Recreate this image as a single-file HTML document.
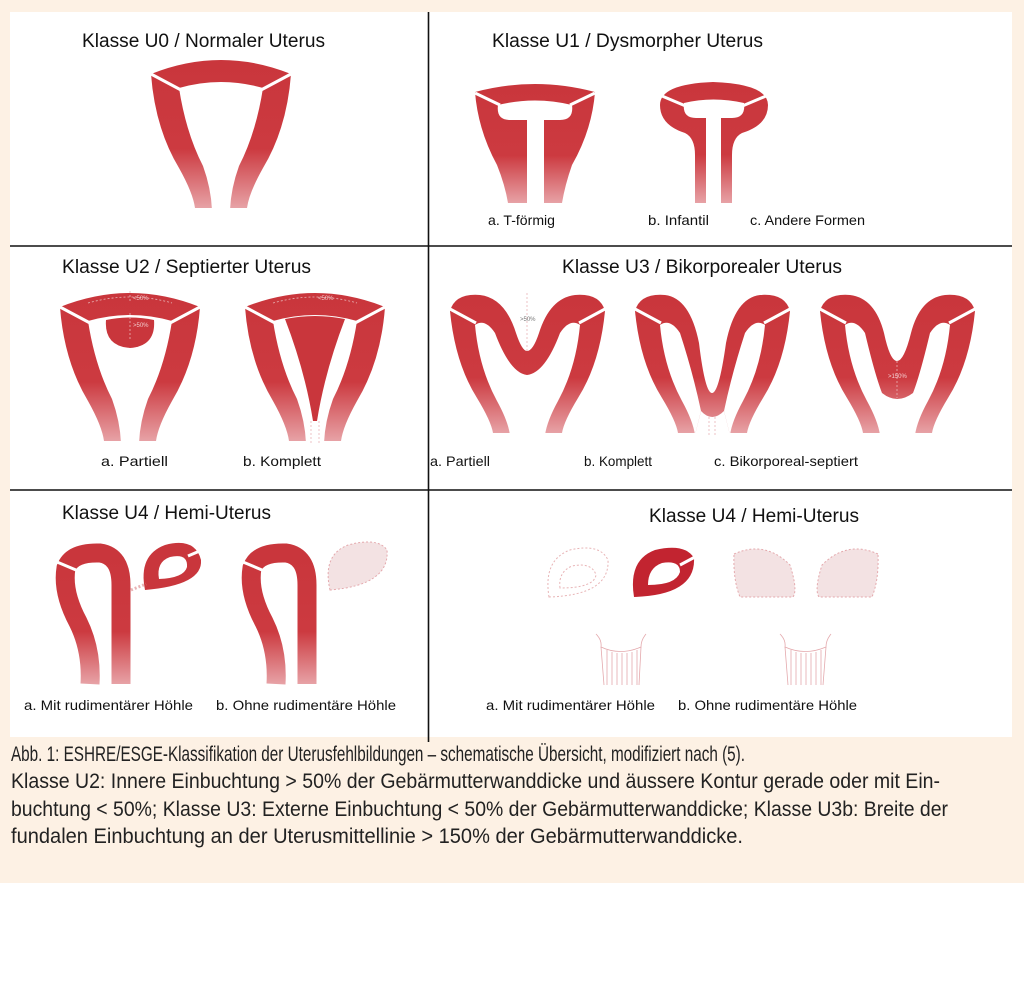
<!DOCTYPE html>
<html><head><meta charset="utf-8"><style>html,body{margin:0;padding:0;background:#fff}svg{display:block}</style></head><body>
<svg width="1024" height="991" viewBox="0 0 1024 991" xmlns="http://www.w3.org/2000/svg" font-family="Liberation Sans, sans-serif">
<defs>
<linearGradient id="g" x1="0" y1="0" x2="0" y2="1">
<stop offset="0" stop-color="#c9363c"/><stop offset="0.6" stop-color="#cc3a40"/><stop offset="1" stop-color="#e7a2a6"/></linearGradient>
<g id="u0">
<path d="M0,16 Q70,-12 140,16 Q136,70 112,110 Q98,135 96,150 L44,150 Q42,135 28,110 Q4,70 0,16Z" fill="url(#g)"/>
<path d="M28,30 Q70,18 112,30 Q105,75 88,108 Q80,130 79,152 L61,152 Q60,130 52,108 Q35,75 28,30Z" fill="#fff"/>
<path d="M0,16 L30,32 M140,16 L110,32" stroke="#fff" stroke-width="3"/>
</g>
</defs>
<rect width="1024" height="883" fill="#fdf1e4"/>
<rect x="10" y="12" width="1002" height="725" fill="#fff"/>
<path d="M10,246 H1012 M10,490 H1012 M428.5,12 V742" stroke="#111" stroke-width="1.6"/>

<g font-size="19" fill="#111" lengthAdjust="spacingAndGlyphs">
<text x="82" y="47" textLength="243" lengthAdjust="spacingAndGlyphs">Klasse U0 / Normaler Uterus</text>
<text x="492" y="47" textLength="271" lengthAdjust="spacingAndGlyphs">Klasse U1 / Dysmorpher Uterus</text>
<text x="62" y="273" textLength="249" lengthAdjust="spacingAndGlyphs">Klasse U2 / Septierter Uterus</text>
<text x="562" y="273" textLength="280" lengthAdjust="spacingAndGlyphs">Klasse U3 / Bikorporealer Uterus</text>
<text x="62" y="519" textLength="209" lengthAdjust="spacingAndGlyphs">Klasse U4 / Hemi-Uterus</text>
<text x="649" y="522" textLength="210" lengthAdjust="spacingAndGlyphs">Klasse U4 / Hemi-Uterus</text>
</g>
<g font-size="14" fill="#111">
<text x="488" y="225" textLength="67" lengthAdjust="spacingAndGlyphs">a. T-förmig</text>
<text x="648" y="225" textLength="61" lengthAdjust="spacingAndGlyphs">b. Infantil</text>
<text x="750" y="225" textLength="115" lengthAdjust="spacingAndGlyphs">c. Andere Formen</text>
<text x="101" y="466" textLength="67" lengthAdjust="spacingAndGlyphs">a. Partiell</text>
<text x="243" y="466" textLength="78" lengthAdjust="spacingAndGlyphs">b. Komplett</text>
<text x="430" y="466" textLength="60" lengthAdjust="spacingAndGlyphs">a. Partiell</text>
<text x="584" y="466" textLength="68" lengthAdjust="spacingAndGlyphs">b. Komplett</text>
<text x="714" y="466" textLength="144" lengthAdjust="spacingAndGlyphs">c. Bikorporeal-septiert</text>
<text x="24" y="710" textLength="169" lengthAdjust="spacingAndGlyphs">a. Mit rudimentärer Höhle</text>
<text x="216" y="710" textLength="180" lengthAdjust="spacingAndGlyphs">b. Ohne rudimentäre Höhle</text>
<text x="486" y="710" textLength="169" lengthAdjust="spacingAndGlyphs">a. Mit rudimentärer Höhle</text>
<text x="678" y="710" textLength="179" lengthAdjust="spacingAndGlyphs">b. Ohne rudimentäre Höhle</text>
</g>

<use href="#u0" transform="translate(151,58)"/>

<path d="M475,92 Q535,76 595,92 Q592,130 572,165 Q565,185 562,203 L508,203 Q505,185 497,165 Q478,130 475,92Z" fill="url(#g)"/>
<path d="M498,105 Q535,96 572,105 Q574,120 560,120 L544,120 L544,204 L527,204 L527,120 L510,120 Q496,120 498,105Z" fill="#fff"/>
<path d="M475,93 L500,105 M595,93 L570,105" stroke="#fff" stroke-width="3"/>
<path d="M660,105 Q660,84 713,82 Q768,84 768,105 Q768,125 742,133 Q732,138 732,155 L732,203 L695,203 L695,155 Q695,138 685,133 Q660,125 660,105Z" fill="url(#g)"/>
<path d="M684,103 Q713,96 744,103 Q746,118 732,118 L721,118 L721,204 L706,204 L706,118 L696,118 Q682,118 684,103Z" fill="#fff"/>
<path d="M662,96 L688,107 M766,96 L740,107" stroke="#fff" stroke-width="3"/>

<g transform="translate(60,291)"><use href="#u0"/>
<path d="M46,29 Q70,24 94,29 Q96,55 70,57 Q44,55 46,29Z" fill="#c9363c"/>
<g stroke="#e8b4b6" stroke-width="0.8" fill="none" stroke-dasharray="2 2"><path d="M28,12 Q70,0 112,12"/><path d="M70,0 V12 M70,22 V48"/></g>
<text x="73" y="9" font-size="6" fill="#f1c9cb">&lt;50%</text><text x="73" y="36" font-size="6" fill="#f1c9cb">&gt;50%</text></g>
<g transform="translate(245,291)"><use href="#u0"/>
<path d="M40,28 Q70,22 100,28 Q80,80 72,130 L68,130 Q60,80 40,28Z" fill="#c9363c"/>
<path d="M66,130 V152 M74,130 V152" stroke="#e8b4b6" stroke-width="0.8" stroke-dasharray="2 2"/>
<g stroke="#e8b4b6" stroke-width="0.8" fill="none" stroke-dasharray="2 2"><path d="M28,12 Q70,0 112,12"/></g>
<text x="73" y="9" font-size="6" fill="#f1c9cb">&lt;50%</text></g>

<g transform="translate(450,293)">
<path d="M0,18 Q5,0 30,2 Q55,5 66,40 Q72,58 77,58 Q83,58 89,40 Q100,5 125,2 Q150,0 155,18 Q150,70 128,105 Q114,128 112,140 L43,140 Q41,128 27,105 Q5,70 0,18Z" fill="url(#g)"/>
<path d="M25,32 Q35,25 45,40 Q60,80 77,82 Q95,80 110,40 Q120,25 130,32 Q126,75 108,108 Q97,128 95,142 L60,142 Q58,128 47,108 Q29,75 25,32Z" fill="#fff"/>
<path d="M0,16 L26,30 M155,16 L129,30" stroke="#fff" stroke-width="3"/>
<path d="M77,0 V58" stroke="#e8b4b6" stroke-width="0.8" stroke-dasharray="2 2"/><text x="70" y="28" font-size="6" fill="#777">&gt;50%</text></g>
<g transform="translate(635,293)">
<path d="M0,18 Q5,0 30,2 Q55,5 64,50 Q70,100 77,100 Q84,100 91,50 Q100,5 125,2 Q150,0 155,18 Q150,70 128,105 Q114,128 112,140 L43,140 Q41,128 27,105 Q5,70 0,18Z" fill="url(#g)"/>
<path d="M25,32 Q35,25 45,40 Q58,80 66,118 L60,142 Q58,128 47,108 Q29,75 25,32Z" fill="#fff"/>
<path d="M130,32 Q120,25 110,40 Q97,80 89,118 L95,142 Q97,128 108,108 Q126,75 130,32Z" fill="#fff"/>
<path d="M66,118 Q77,130 89,118 L95,142 L60,142Z" fill="#fff"/>
<path d="M0,16 L26,30 M155,16 L129,30" stroke="#fff" stroke-width="3"/>
<path d="M74,124 V142 M80,124 V142" stroke="#e8b4b6" stroke-width="0.8" stroke-dasharray="2 2"/></g>
<g transform="translate(820,293)">
<path d="M0,18 Q5,0 30,2 Q55,5 64,40 Q70,68 77,68 Q84,68 91,40 Q100,5 125,2 Q150,0 155,18 Q150,70 128,105 Q114,128 112,140 L43,140 Q41,128 27,105 Q5,70 0,18Z" fill="url(#g)"/>
<path d="M25,32 Q35,25 45,40 Q55,82 62,100 Q77,112 93,100 Q100,82 110,40 Q120,25 130,32 Q126,75 108,108 Q97,128 95,142 L60,142 Q58,128 47,108 Q29,75 25,32Z" fill="#fff"/>
<path d="M0,16 L26,30 M155,16 L129,30" stroke="#fff" stroke-width="3"/>
<path d="M77,68 V105" stroke="#e8b4b6" stroke-width="0.8" stroke-dasharray="2 2"/><text x="68" y="85" font-size="6" fill="#f4d0d2">&gt;150%</text></g>

<g id="hemi">
<path d="M90,684 Q92,650 78,622 Q62,592 66,568 Q72,552 100,553 Q121,556 121,585 L121,684" fill="none" stroke="url(#g)" stroke-width="19"/>
<path d="M57,562 L76,570" stroke="#fff" stroke-width="3"/>
</g>
<path d="M145,590 Q138,555 165,545 Q195,537 201,560 Q203,585 145,590Z" fill="#c9363c"/>
<path d="M159,579 Q156,562 170,557 Q188,553 187,567 Q184,578 159,579Z" fill="#fff"/>
<path d="M188,556 L202,550" stroke="#fff" stroke-width="3"/>
<path d="M131,590 L146,584" stroke="#e8b4b6" stroke-width="3" stroke-dasharray="2 2"/>
<use href="#hemi" transform="translate(186,0)"/>
<path d="M330,590 Q322,555 348,545 Q378,537 387,550 Q390,585 330,590Z" fill="#f3e2e3" stroke="#e4a9ad" stroke-width="1" stroke-dasharray="2 2"/>

<path d="M549,597 Q543,560 570,550 Q600,543 608,560 Q610,595 549,597Z" fill="none" stroke="#e8b4b6" stroke-width="1" stroke-dasharray="2 2"/>
<path d="M560,588 Q558,572 572,566 Q592,562 596,575 Q594,588 560,588Z" fill="none" stroke="#e8b4b6" stroke-width="1" stroke-dasharray="2 2"/>
<path d="M634,597 Q628,560 655,550 Q685,543 694,558 Q696,595 634,597Z" fill="#c22430"/>
<path d="M648,585 Q648,568 662,563 Q680,560 680,572 Q676,585 648,585Z" fill="#fff"/>
<path d="M680,565 L695,557" stroke="#fff" stroke-width="3"/>
<path d="M734,554 Q765,540 790,565 Q798,590 793,597 L740,597 Q733,580 734,554Z" fill="#f3e2e3" stroke="#e4a9ad" stroke-width="1" stroke-dasharray="2 2"/>
<path d="M878,554 Q847,540 822,565 Q814,590 819,597 L872,597 Q879,580 878,554Z" fill="#f3e2e3" stroke="#e4a9ad" stroke-width="1" stroke-dasharray="2 2"/>
<g stroke="#e4a9ad" stroke-width="0.8" fill="none">
<path d="M596,634 Q602,640 601,647 Q620,656 641,647 Q641,640 646,634"/>
<path d="M601,647 L604,685 M607,650 V685 M612,652 V685 M617,653 V685 M622,653 V685 M627,653 V685 M632,652 V685 M637,650 V685 M641,647 L639,685"/>
<path d="M780,634 Q786,640 785,647 Q805,656 826,647 Q826,640 831,634"/>
<path d="M785,647 L788,685 M791,650 V685 M796,652 V685 M801,653 V685 M806,653 V685 M811,653 V685 M816,652 V685 M821,650 V685 M826,647 L823,685"/>
</g>

<g font-size="21" fill="#222">
<text x="11" y="761" textLength="734" lengthAdjust="spacingAndGlyphs">Abb. 1: ESHRE/ESGE-Klassifikation der Uterusfehlbildungen – schematische Übersicht, modifiziert nach (5).</text>
<text x="11" y="788" textLength="929" lengthAdjust="spacingAndGlyphs">Klasse U2: Innere Einbuchtung &gt; 50% der Gebärmutterwanddicke und äussere Kontur gerade oder mit Ein-</text>
<text x="11" y="816" textLength="937" lengthAdjust="spacingAndGlyphs">buchtung &lt; 50%; Klasse U3: Externe Einbuchtung &lt; 50% der Gebärmutterwanddicke; Klasse U3b: Breite der</text>
<text x="11" y="843" textLength="732" lengthAdjust="spacingAndGlyphs">fundalen Einbuchtung an der Uterusmittellinie &gt; 150% der Gebärmutterwanddicke.</text>
</g>
</svg>
</body></html>
